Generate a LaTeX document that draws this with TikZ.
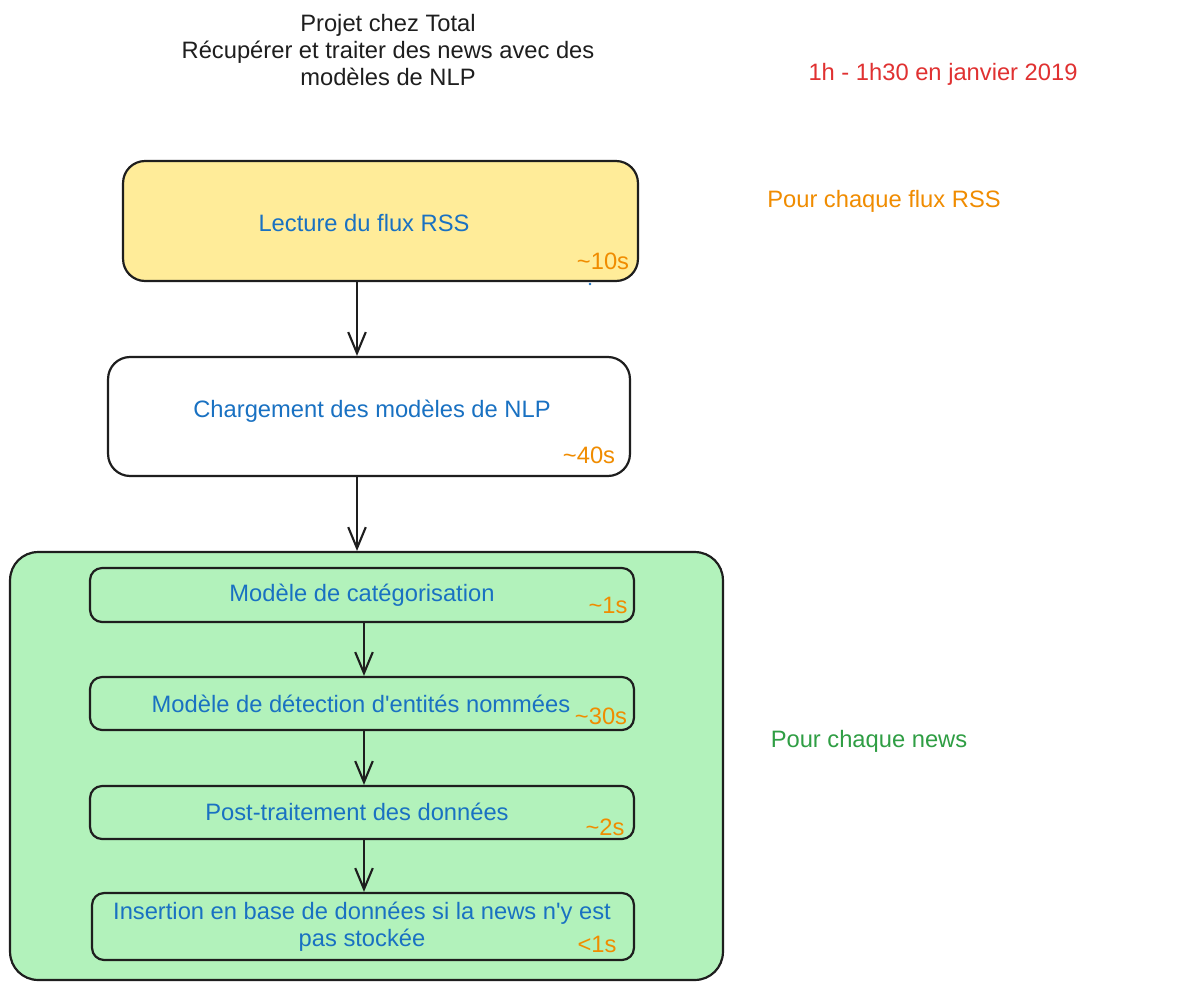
\documentclass[tikz,border=0pt]{standalone}
\usepackage{fontspec}
\setmainfont{Liberation Sans}
\usetikzlibrary{arrows.meta}
\definecolor{yellowfill}{HTML}{FFEC99}
\definecolor{greenfill}{HTML}{B2F2BB}
\definecolor{txtblue}{HTML}{1971C2}
\definecolor{txtorange}{HTML}{F08C00}
\definecolor{txtred}{HTML}{E03131}
\definecolor{txtgreen}{HTML}{2F9E44}
\definecolor{ink}{HTML}{1E1E1E}
\tikzset{
  box/.style={draw=ink, line width=1.25pt, rectangle, inner sep=0pt},
  lbl/.style={text=txtblue, font=\fontsize{13.5}{16}\selectfont, inner sep=0pt},
  tm/.style={text=txtorange, font=\fontsize{13.5}{16}\selectfont, inner sep=0pt},
  note/.style={font=\fontsize{13.5}{16}\selectfont, inner sep=0pt},
  arr/.style={draw=ink, line width=1.2pt, -{Straight Barb[length=12pt,width=10pt,line width=1.2pt]}}
}
\begin{document}
\begin{tikzpicture}[x=0.02cm,y=-0.02cm]
\useasboundingbox[fill=white] (0,0) rectangle (1186,990);
% title
\node[note, text=ink, align=center, font=\fontsize{13.5}{15.6}\selectfont] (title) at (388,50)
  {Projet chez Total\\Récupérer et traiter des news avec des\\modèles de NLP};
\node[note, text=txtred] (date) at (943,74) {1h - 1h30 en janvier 2019};
\node[note, text=txtorange] (rss) at (884,201) {Pour chaque flux RSS};
\node[note, text=txtgreen] (news) at (869,741) {Pour chaque news};
% box 1
\node[box, fill=yellowfill, minimum width=10.30cm, minimum height=2.40cm, rounded corners=0.44cm] (b1) at (380.5,221) {};
\node[lbl] (t1) at (364,223) {Lecture du flux RSS};
\node[tm] (s1) at (603,261) {\textasciitilde 10s};
\fill[txtblue] (590,284) circle[radius=1.3];
% box 2
\node[box, fill=white, minimum width=10.44cm, minimum height=2.38cm, rounded corners=0.44cm] (b2) at (369,416.5) {};
\node[lbl] (t2) at (372,411) {Chargement des modèles de NLP};
\node[tm] (s2) at (589,455) {\textasciitilde 40s};
% container
\node[box, fill=greenfill, minimum width=14.26cm, minimum height=8.56cm, rounded corners=0.56cm] (c) at (366.5,766) {};
% sub boxes
\node[box, fill=greenfill, minimum width=10.88cm, minimum height=1.08cm, rounded corners=0.24cm] (m1) at (362,595) {};
\node[lbl] (tm1) at (362,595) {Modèle de catégorisation};
\node[tm] (sm1) at (608,605) {\textasciitilde 1s};
\node[box, fill=greenfill, minimum width=10.88cm, minimum height=1.06cm, rounded corners=0.24cm] (m2) at (362,703.5) {};
\node[lbl] (tm2) at (361,704) {Modèle de détection d\textquotesingle entités nommées};
\node[tm] (sm2) at (601,716) {\textasciitilde 30s};
\node[box, fill=greenfill, minimum width=10.88cm, minimum height=1.06cm, rounded corners=0.24cm] (m3) at (362,812.5) {};
\node[lbl] (tm3) at (357,812) {Post-traitement des données};
\node[tm] (sm3) at (605,827) {\textasciitilde 2s};
\node[box, fill=greenfill, minimum width=10.84cm, minimum height=1.34cm, rounded corners=0.24cm] (m4) at (363,926.5) {};
\node[lbl, align=center, font=\fontsize{13.5}{15.3}\selectfont] (tm4) at (362,926.5) {Insertion en base de données si la news n\textquotesingle y est\\pas stockée};
\node[tm] (sm4) at (597,944) {<1s};
% arrows
\draw[arr] (b1.south -| 357,0) -- (b2.north -| 357,0);
\draw[arr] (b2.south -| 357,0) -- (c.north -| 357,0);
\draw[arr] (m1.south -| 364,0) -- (m2.north -| 364,0);
\draw[arr] (m2.south -| 364,0) -- (m3.north -| 364,0);
\draw[arr] (m3.south -| 364,0) -- (m4.north -| 364,0);
\end{tikzpicture}
\end{document}
